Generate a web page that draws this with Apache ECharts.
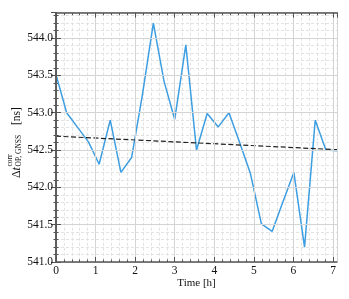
<!DOCTYPE html>
<html>
<head>
<meta charset="utf-8">
<script src="https://cdn.jsdelivr.net/npm/echarts@6/dist/echarts.min.js"></script>
<style>html,body{margin:0;padding:0;background:#fff}#c{width:349px;height:299px}</style>
</head>
<body>
<div id="c"></div>
<script>
// Data
var times = [0, 0.27, 0.55, 0.82, 1.09, 1.37, 1.64, 1.91, 2.18, 2.46, 2.73, 3.0, 3.28, 3.55, 3.82, 4.10, 4.37, 4.64, 4.91, 5.19, 5.46, 5.73, 6.01, 6.28, 6.55, 6.82, 7.10];
var offsets = [543.51, 543.00, 542.80, 542.61, 542.31, 542.90, 542.20, 542.40, 543.23, 544.20, 543.42, 542.91, 543.91, 542.50, 542.99, 542.81, 543.00, 542.60, 542.19, 541.51, 541.41, 541.80, 542.20, 541.20, 542.90, 542.50, 542.49];
var trendTimes = [0, 7.1];
var trendValues = [542.686, 542.505];
var xTicks = [0, 1, 2, 3, 4, 5, 6, 7];
var yTicks = [541.0, 541.5, 542.0, 542.5, 543.0, 543.5, 544.0];

var FONT = 'Liberation Serif';
var X_MIN = 0, X_MAX = 7.1, Y_MIN = 541.0, Y_MAX = 544.34;
var FRAME = '#555555';

function pairs(xs, ys) { return xs.map(function (x, i) { return [x, ys[i]]; }); }

function xAx(pos, major, showLabel) {
  return {
    type: 'value', position: pos, min: X_MIN, max: X_MAX,
    interval: major ? 1 : 0.2,
    z: major ? 3 : 1,
    axisLine: { show: major, lineStyle: { color: FRAME, width: 1.5 } },
    axisTick: { show: true, inside: true, length: major ? 5 : 2.5, lineStyle: { color: FRAME, width: 1 } },
    axisLabel: {
      show: showLabel, margin: 3, showMaxLabel: false,
      fontFamily: FONT, fontSize: 11.5, color: '#111',
      formatter: function (v) { return xTicks.indexOf(v) >= 0 ? String(v) : ''; }
    },
    splitLine: (pos === 'bottom') ? {
      show: true,
      lineStyle: major ? { color: '#d4d4d4', width: 1 } : { color: '#e2e2e2', width: 1, type: [3, 2] }
    } : { show: false },
    name: (showLabel ? 'Time [h]' : ''),
    nameLocation: 'middle', nameGap: 15.5, nameMoveOverlap: false,
    nameTextStyle: { fontFamily: FONT, fontSize: 11, color: '#111' }
  };
}
function yAx(pos, major, showLabel) {
  return {
    type: 'value', position: pos, min: Y_MIN, max: Y_MAX,
    interval: major ? 0.5 : 0.1,
    z: major ? 3 : 1,
    axisLine: { show: major, lineStyle: { color: FRAME, width: 1.5 } },
    axisTick: { show: true, inside: true, length: major ? 5 : 2.5, lineStyle: { color: FRAME, width: 1 } },
    axisLabel: {
      show: showLabel, margin: 3, showMaxLabel: false,
      fontFamily: FONT, fontSize: 11.5, color: '#111',
      formatter: function (v) {
        for (var i = 0; i < yTicks.length; i++) if (Math.abs(yTicks[i] - v) < 1e-6) return yTicks[i].toFixed(1);
        return '';
      }
    },
    splitLine: (pos === 'left') ? {
      show: true,
      lineStyle: major ? { color: '#d4d4d4', width: 1 } : { color: '#e2e2e2', width: 1, type: [3, 2] }
    } : { show: false }
  };
}

function lbl(text, x, y, size, italic) {
  return {
    type: 'text', x: x, y: y,
    style: {
      text: text, fontFamily: FONT, fontSize: size, fontStyle: italic ? 'italic' : 'normal',
      fill: '#111', verticalAlign: 'bottom', align: 'left'
    }
  };
}

var chart = echarts.init(document.getElementById('c'), null, { renderer: 'canvas' });
chart.setOption({
  animation: false,
  backgroundColor: '#ffffff',
  grid: { left: 56, right: 12, top: 12.7, bottom: 37, containLabel: false },
  xAxis: [xAx('bottom', true, true), xAx('bottom', false, false), xAx('top', true, false), xAx('top', false, false)],
  yAxis: [yAx('left', true, true), yAx('left', false, false), yAx('right', true, false), yAx('right', false, false)],
  series: [
    {
      type: 'line', xAxisIndex: 0, yAxisIndex: 0, data: pairs(times, offsets),
      showSymbol: false, symbol: 'none', clip: true, z: 2,
      lineStyle: { color: '#3d9ee2', width: 1.5 }
    },
    {
      type: 'line', xAxisIndex: 0, yAxisIndex: 0, data: pairs(trendTimes, trendValues),
      showSymbol: false, symbol: 'none', clip: true, z: 2,
      lineStyle: { color: '#222222', width: 1.2, type: [5, 2.5] }
    }
  ],
  graphic: [{
    type: 'group', x: 0, y: 178, rotation: Math.PI / 2,
    children: [
      lbl('Δ', 0, 22.5, 12, false),
      lbl('t', 7.4, 22.5, 12, true),
      lbl('corr', 11.5, 14, 7.5, false),
      lbl('OP, GNSS', 11.5, 23, 7.5, false),
      lbl('[ns]', 53, 22.5, 11.5, false)
    ]
  }]
});
</script>
</body>
</html>
